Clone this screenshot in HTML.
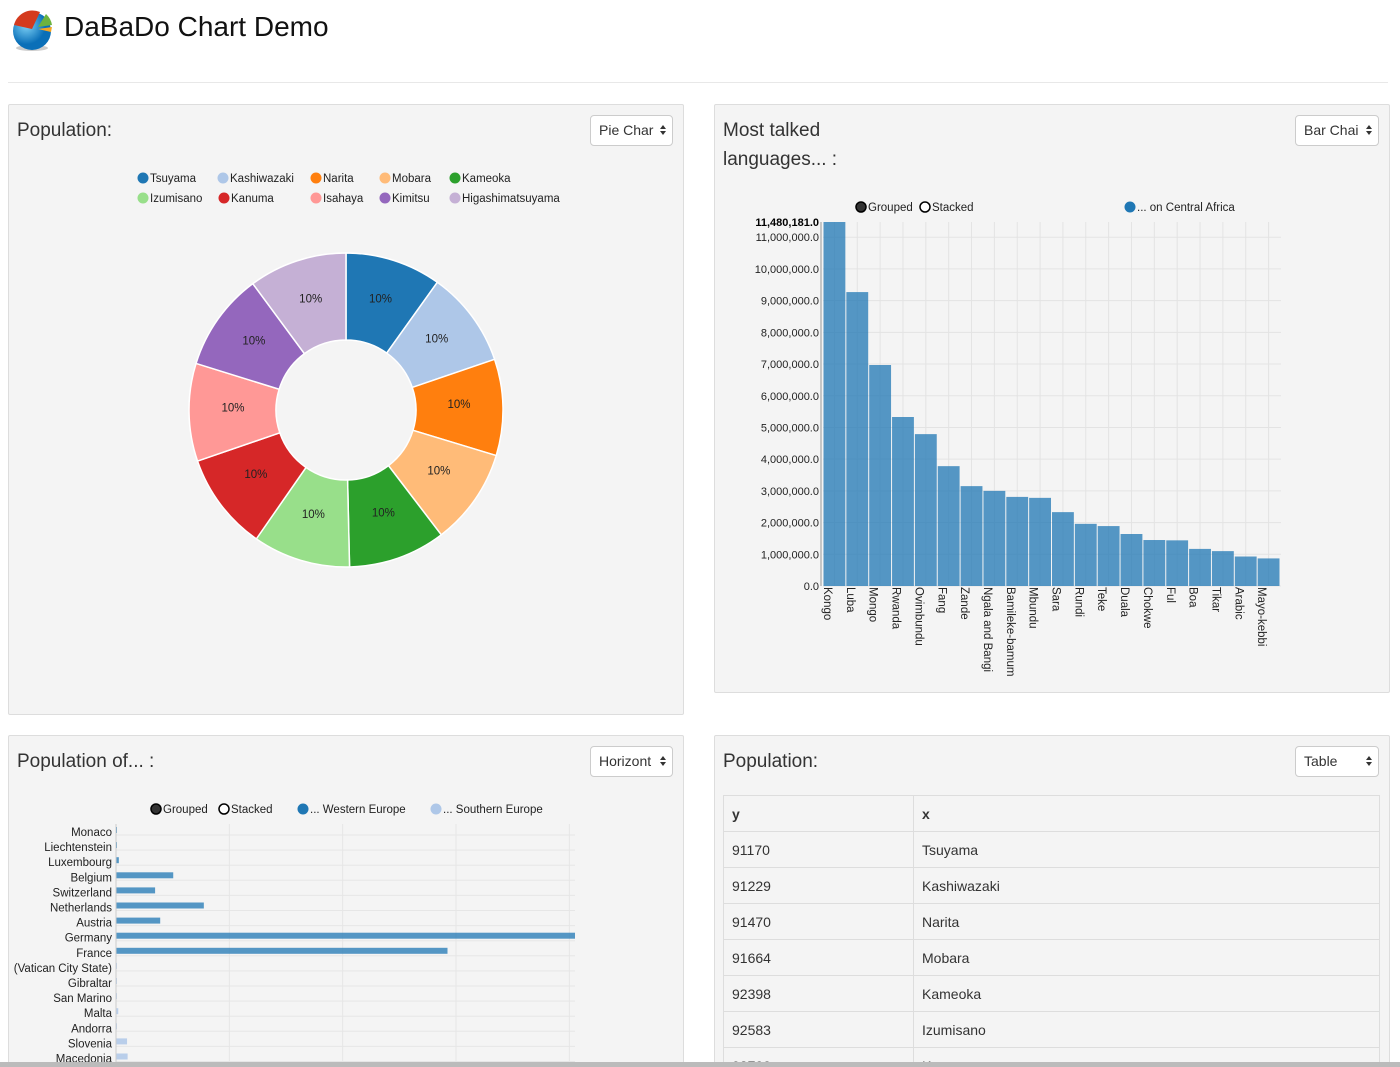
<!DOCTYPE html>
<html style="overflow:hidden;height:1067px"><head><meta charset="utf-8"><style>
body{margin:0;width:1400px;height:1067px;overflow:hidden;background:#fff;font-family:"Liberation Sans",sans-serif;position:relative}
.panel{position:absolute;background:#f4f4f4;border:1px solid #ddd;border-radius:2px;overflow:hidden}
.ptitle{position:absolute;left:8px;top:11px;font-size:19px;color:#333;line-height:29px}
.sel{position:absolute;top:10px;height:31px;border:1px solid #ccc;border-radius:4px;background:#fff;font-size:14px;color:#333;line-height:29px;padding-left:8px;box-sizing:border-box;overflow:hidden;white-space:nowrap}
.arr{position:absolute;right:4px;top:8px;width:10px;height:14px;background:#fff}
.arr:before{content:"";position:absolute;left:2px;top:1px;border:3px solid transparent;border-bottom:4px solid #333;border-top:0}
.arr:after{content:"";position:absolute;left:2px;top:7px;border:3px solid transparent;border-top:4px solid #333;border-bottom:0}
svg text{font-family:"Liberation Sans",sans-serif}
table{border-collapse:collapse;font-size:14px;color:#333}
td,th{border:1px solid #ddd;height:35px;padding:0 8px;text-align:left}
</style></head><body>
<div style="position:absolute;left:0;top:0;width:1400px;height:60px">
<svg width="48" height="50" style="position:absolute;left:10px;top:5px">
<defs><radialGradient id="g" cx="35%" cy="35%"><stop offset="0" stop-color="#7fd3f7"/><stop offset="1" stop-color="#0a6fb8"/></radialGradient></defs>
<ellipse cx="22" cy="43" rx="16" ry="3" fill="#ccc"/><circle cx="22" cy="26" r="19" fill="url(#g)"/>
<path d="M22 24 L4 20 A19 19 0 0 1 30 7 Z" fill="#d43a1e"/><path d="M28 22 L36 9 A19 19 0 0 1 42 20 Z" fill="#6cb33f"/><path d="M28 24 L42 22 L41 27 Z" fill="#f5a623"/></svg>
<div style="position:absolute;left:64px;top:11px;font-size:28px;color:#111">DaBaDo Chart Demo</div>
</div>
<div style="position:absolute;left:8px;top:82px;width:1380px;height:1px;background:#e8e8e8"></div>

<div class="panel" style="left:8px;top:104px;width:674px;height:609px">
<div class="ptitle">Population:</div>
<div class="sel" style="left:581px;width:83px">Pie Char<span class="arr"></span></div>
<svg id="pie" width="674" height="609" style="position:absolute;left:0;top:0"></svg>
</div>

<div class="panel" style="left:714px;top:104px;width:674px;height:587px">
<div class="ptitle">Most talked<br>languages... :</div>
<div class="sel" style="left:580px;width:84px">Bar Chai<span class="arr"></span></div>
<svg id="bar" width="674" height="587" style="position:absolute;left:0;top:0"></svg>
</div>

<div class="panel" style="left:8px;top:735px;width:674px;height:340px">
<div class="ptitle">Population of... :</div>
<div class="sel" style="left:581px;width:83px">Horizont<span class="arr"></span></div>
<svg id="hbar" width="674" height="340" style="position:absolute;left:0;top:0"></svg>
</div>

<div class="panel" style="left:714px;top:735px;width:674px;height:340px">
<div class="ptitle">Population:</div>
<div class="sel" style="left:580px;width:84px">Table<span class="arr"></span></div>
<table style="position:absolute;left:8px;top:59px;width:657px">
<tr style="background:#f4f4f4"><th style="width:173px">y</th><th>x</th></tr>
<tbody id="tb"></tbody></table>
</div>
<div style="position:absolute;left:0;top:1062px;width:1400px;height:5px;background:#bbb;z-index:10"></div>

<script>
const NS="http://www.w3.org/2000/svg";
function mk(p,t,a,txt){const e=document.createElementNS(NS,t);for(const k in a)e.setAttribute(k,a[k]);if(txt!==undefined)e.textContent=txt;p.appendChild(e);return e;}

// ---- pie data
const pieCities=["Tsuyama","Kashiwazaki","Narita","Mobara","Kameoka","Izumisano","Kanuma","Isahaya","Kimitsu","Higashimatsuyama"];
const pieValues=[91170,91229,91470,91664,92398,92583,92700,92900,93100,93300];
const pieColors=["#1f77b4","#aec7e8","#ff7f0e","#ffbb78","#2ca02c","#98df8a","#d62728","#ff9896","#9467bd","#c5b0d5"];
// ---- bar data
const barLangs=["Kongo","Luba","Mongo","Rwanda","Ovimbundu","Fang","Zande","Ngala and Bangi","Bamileke-bamum","Mbundu","Sara","Rundi","Teke","Duala","Chokwe","Ful","Boa","Tikar","Arabic","Mayo-kebbi"];
const barValues=[11480181,9270000,6970000,5330000,4790000,3780000,3150000,3000000,2810000,2780000,2330000,1960000,1890000,1640000,1450000,1440000,1170000,1100000,930000,870000];
const barTicks=[0,1000000,2000000,3000000,4000000,5000000,6000000,7000000,8000000,9000000,10000000,11000000];
// ---- hbar data
const hCountries=["Monaco","Liechtenstein","Luxembourg","Belgium","Switzerland","Netherlands","Austria","Germany","France","(Vatican City State)","Gibraltar","San Marino","Malta","Andorra","Slovenia","Macedonia"];
const hValues=[0.04,0.04,0.5,10.1,6.9,15.5,7.8,81,58.5,0.001,0.03,0.03,0.4,0.08,1.95,2.05];
const hRegion=[0,0,0,0,0,0,0,0,0,1,1,1,1,1,1,1];
const hTicks=[0,20,40,60,80];
// ---- table
const tY=[91170,91229,91470,91664,92398,92583,92700];

// PIE
(function(){
const s=document.getElementById('pie');
const lx=[[128,"Tsuyama"],[208,"Kashiwazaki"],[301,"Narita"],[370,"Mobara"],[440,"Kameoka"],[128,"Izumisano"],[209,"Kanuma"],[301,"Isahaya"],[370,"Kimitsu"],[440,"Higashimatsuyama"]];
pieCities.forEach((c,i)=>{
 const x=lx[i][0],y=i<5?73:93;
 const g=mk(s,'g',{});
 
 
 mk(g,'circle',{cx:x+6,cy:y,r:5.5,fill:pieColors[i]});
 mk(g,'text',{x:x+13,y:y+4,'font-size':11.5,fill:'#222'},c);
});
const cx=337,cy=305,R=157,r=70,tot=pieValues.reduce((a,b)=>a+b,0);
let a0=0;
pieValues.forEach((v,i)=>{
 const a1=a0+v/tot*2*Math.PI;
 const p=(a,rr)=>[cx+rr*Math.sin(a),cy-rr*Math.cos(a)];
 const [x0,y0]=p(a0,R),[x1,y1]=p(a1,R),[x2,y2]=p(a1,r),[x3,y3]=p(a0,r);
 const path=mk(s,'path',{d:`M${x0} ${y0}A${R} ${R} 0 0 1 ${x1} ${y1}L${x2} ${y2}A${r} ${r} 0 0 0 ${x3} ${y3}Z`,fill:pieColors[i],stroke:'#fff','stroke-width':1.5});
 
 
 const [tx,ty]=p((a0+a1)/2,113);
 mk(s,'text',{x:tx,y:ty,'text-anchor':'middle','font-size':11.5,fill:'#222'},Math.round(v/tot*100)+'%');
 a0=a1;
});
})();

// BAR
(function(){
const s=document.getElementById('bar');
const x0=108,x1=565,y0=481,ymax=11480181,top=117;
const ys=v=>y0-(v/ymax)*(y0-top);
const bw=(x1-x0)/barValues.length;
const gl=[[154,"Grouped",1],[218,"Stacked",0]];
gl.forEach(([x,t,f])=>{const g=mk(s,'g',{});
 mk(g,'circle',{cx:x-8,cy:102,r:5,fill:f?'#333':'#fff',stroke:'#000','stroke-width':1.5});mk(g,'text',{x:x-1,y:106,'font-size':11.5,fill:'#222'},t);});
const lg=mk(s,'g',{});
mk(lg,'circle',{cx:415,cy:102,r:5.5,fill:'#1f77b4'});mk(lg,'text',{x:422,y:106,'font-size':11.5,fill:'#222'},'... on Central Africa');
barTicks.forEach(t=>{const y=ys(t);mk(s,'line',{x1:x0,x2:x1+1,y1:y,y2:y,stroke:'#e3e3e3'});
 mk(s,'text',{x:x0-4,y:y+4,'text-anchor':'end','font-size':11,fill:'#222'},t.toLocaleString('en-US')+'.0');});
mk(s,'text',{x:x0-4,y:top+4,'text-anchor':'end','font-size':11,'font-weight':'bold',fill:'#000'},ymax.toLocaleString('en-US')+'.0');
barValues.forEach((v,i)=>{mk(s,'line',{x1:x0+bw*(i+0.5),x2:x0+bw*(i+0.5),y1:top,y2:y0,stroke:'#e3e3e3'});});
mk(s,'line',{x1:x0-2,x2:x0-2,y1:top,y2:y0,stroke:'#999'});
barValues.forEach((v,i)=>{
 const b=mk(s,'rect',{x:x0+bw*i+0.5,y:ys(v),width:bw-1,height:y0-ys(v),fill:'#1f77b4','fill-opacity':0.75});
 
 
 const tx=x0+bw*i+1;
 mk(s,'text',{x:0,y:0,transform:`translate(${tx},${y0+1}) rotate(90)`,'font-size':11.5,fill:'#222'},barLangs[i]);
});
})();

// HBAR
(function(){
const s=document.getElementById('hbar');
const x0=107,x1=566,top=96,step=15.1,vmax=81;
const xs=v=>x0+v/vmax*(x1-x0);
[[148,"Grouped",1],[216,"Stacked",0]].forEach(([x,t,f])=>{const g=mk(s,'g',{});
 mk(g,'circle',{cx:x-1,cy:73,r:5,fill:f?'#333':'#fff',stroke:'#000','stroke-width':1.5});mk(g,'text',{x:x+6,y:77,'font-size':11.5,fill:'#222'},t);});
[[294,"... Western Europe","#1f77b4"],[427,"... Southern Europe","#aec7e8"]].forEach(([x,t,c])=>{const g=mk(s,'g',{});
 mk(g,'circle',{cx:x,cy:73,r:5.5,fill:c});mk(g,'text',{x:x+7,y:77,'font-size':11.5,fill:'#222'},t);});
hTicks.forEach(t=>mk(s,'line',{x1:xs(t),x2:xs(t),y1:88,y2:340,stroke:'#e6e6e6'}));
hCountries.forEach((c,i)=>{
 const y=top+i*step;
 mk(s,'line',{x1:x0,x2:x1,y1:y+3,y2:y+3,stroke:'#e6e6e6'});
 mk(s,'text',{x:x0-4,y:y+4,'text-anchor':'end','font-size':11.5,fill:'#222'},c);
 const b=mk(s,'rect',{x:x0,y:y-5,width:Math.max(xs(hValues[i])-x0,1),height:6,fill:hRegion[i]?'#aec7e8':'#1f77b4','fill-opacity':hRegion[i]?0.85:0.75});
 
 
});
mk(s,'line',{x1:x0,x2:x0,y1:88,y2:340,stroke:'#ccc'});
})();

// TABLE
(function(){
const tb=document.getElementById('tb');
tY.forEach((y,i)=>{const tr=document.createElement('tr');
 
 
 tr.style.background='#f4f4f4';
 tr.innerHTML='<td>'+y+'</td><td>'+pieCities[i]+'</td>';tb.appendChild(tr);});
})();
</script>
</body></html>
